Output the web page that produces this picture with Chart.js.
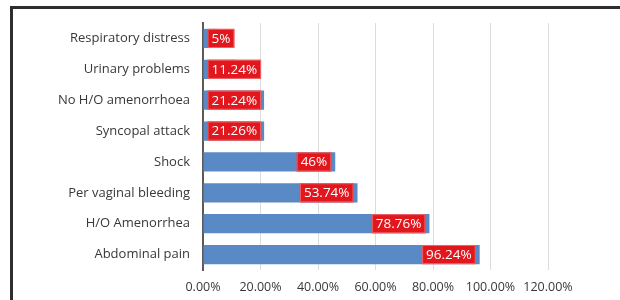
<!DOCTYPE html>
<html>
<head>
<meta charset="utf-8">
<script src="https://cdn.jsdelivr.net/npm/chart.js@4"></script>
<style>
  html, body { margin: 0; padding: 0; background: #fff; }
  #wrap { position: relative; width: 620px; height: 300px; }
</style>
</head>
<body>
<div id="wrap"><canvas id="myChart" width="620" height="300"></canvas></div>
<script>
// chart data
const categories = [
  "Respiratory distress",
  "Urinary problems",
  "No H/O amenorrhoea",
  "Syncopal attack",
  "Shock",
  "Per vaginal bleeding",
  "H/O Amenorrhea",
  "Abdominal pain",
];
const values = [5, 11.24, 21.24, 21.26, 46, 53.74, 78.76, 96.24];
const valueLabels = ["5%", "11.24%", "21.24%", "21.26%", "46%", "53.74%", "78.76%", "96.24%"];
const tickValues = [0, 20, 40, 60, 80, 100, 120];

const FONT = "'Open Sans', sans-serif";

// the outer frame (top and left edges only)
const framePlugin = {
  id: "frame",
  beforeDraw(chart) {
    const ctx = chart.ctx;
    ctx.save();
    ctx.fillStyle = "#fff";
    ctx.fillRect(0, 0, chart.width, chart.height);
    ctx.fillStyle = "#2e2e2e";
    ctx.fillRect(10, 6, chart.width - 10, 3);
    ctx.fillRect(10, 6, 3, chart.height - 6);
    ctx.restore();
  },
};

// red value boxes, inside end of the bar or at its start when too short
const valueBoxPlugin = {
  id: "valueBoxes",
  afterDatasetsDraw(chart) {
    const ctx = chart.ctx;
    const meta = chart.getDatasetMeta(0);
    ctx.save();
    ctx.font = "13.5px " + FONT;
    ctx.textAlign = "center";
    ctx.textBaseline = "middle";
    meta.data.forEach((bar, i) => {
      const text = valueLabels[i];
      const w = ctx.measureText(text).width + 8;
      const h = bar.height;
      const x = Math.max(bar.base + 4, bar.x - 4 - w);
      const y = bar.y - h / 2;
      ctx.fillStyle = "#e2161d";
      ctx.fillRect(x, y, w, h);
      ctx.strokeStyle = "rgba(240,120,120,0.8)";
      ctx.lineWidth = 1;
      ctx.strokeRect(x + 0.5, y + 0.5, w - 1, h - 1);
      ctx.fillStyle = "#fff";
      ctx.fillText(text, x + w / 2, bar.y + 0.5);
    });
    ctx.restore();
  },
};

const ctx = document.getElementById("myChart").getContext("2d");
new Chart(ctx, {
  type: "bar",
  data: {
    labels: categories,
    datasets: [
      {
        data: values,
        backgroundColor: "#5a8ac6",
        borderWidth: 0,
        barPercentage: 0.62,
        categoryPercentage: 1,
      },
    ],
  },
  options: {
    indexAxis: "y",
    responsive: false,
    animation: false,
    devicePixelRatio: 1,
    layout: { padding: { top: 23, right: 72, left: 0, bottom: 0 } },
    plugins: {
      legend: { display: false },
      tooltip: { enabled: false },
      title: { display: false },
    },
    scales: {
      x: {
        min: 0,
        max: 120,
        afterBuildTicks(scale) {
          scale.ticks = tickValues.map((v) => ({ value: v }));
        },
        afterFit(scale) {
          scale.height = 30;
        },
        grid: { color: "#dcdcdc", lineWidth: 1, drawTicks: false },
        border: { display: false },
        ticks: {
          padding: 10,
          color: "#383838",
          font: { family: FONT, size: 12.5 },
          callback: (v) => v.toFixed(2) + "%",
          maxRotation: 0,
        },
      },
      y: {
        afterFit(scale) {
          scale.width = 203;
        },
        grid: { display: false, drawTicks: false },
        border: { display: true, color: "#5a5a5a", width: 2 },
        ticks: {
          padding: 13,
          color: "#383838",
          font: { family: FONT, size: 13 },
        },
      },
    },
  },
  plugins: [framePlugin, valueBoxPlugin],
});
</script>
</body>
</html>
